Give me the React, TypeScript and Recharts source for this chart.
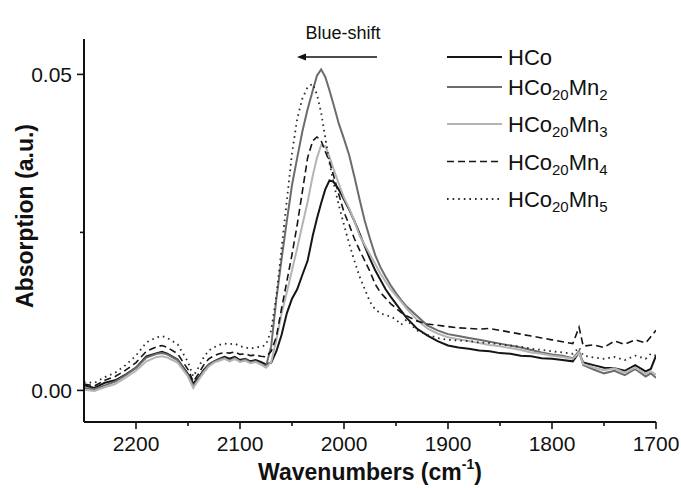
import React from 'react';
import { LineChart, Line, XAxis, YAxis, Legend } from 'recharts';

const WAVENUMBERS = [
  2250, 2240, 2230, 2220, 2210, 2200, 2190, 2180, 2175, 2170,
  2160, 2150, 2145, 2140, 2135, 2130, 2125, 2120, 2115, 2110,
  2105, 2100, 2095, 2090, 2085, 2080, 2075, 2070, 2065, 2060,
  2055, 2050, 2045, 2040, 2035, 2030, 2026, 2022, 2018, 2014,
  2010, 2005, 2000, 1995, 1990, 1985, 1980, 1975, 1970, 1965,
  1960, 1955, 1950, 1945, 1940, 1930, 1920, 1910, 1900, 1890,
  1880, 1870, 1860, 1850, 1840, 1830, 1820, 1810, 1800, 1790,
  1780, 1774, 1770, 1760, 1750, 1740, 1730, 1720, 1710, 1705, 1700,
];

const HCO = [
  0.0008, 0.0004, 0.0012, 0.0016, 0.0025, 0.0036, 0.0054, 0.0059, 0.0061, 0.0058,
  0.0049, 0.0026, 0.0011, 0.0020, 0.0032, 0.0041, 0.0046, 0.0050, 0.0053, 0.0050,
  0.0053, 0.0048, 0.0050, 0.0046, 0.0048, 0.0045, 0.0041, 0.0044, 0.0062, 0.0088,
  0.0122, 0.0145, 0.0160, 0.0183, 0.0205, 0.0245, 0.0272, 0.0296, 0.0318, 0.0332,
  0.0330, 0.0318, 0.0302, 0.0286, 0.0268, 0.0248, 0.0228, 0.0208, 0.0190, 0.0175,
  0.0160, 0.0148, 0.0137, 0.0126, 0.0115, 0.0098, 0.0087, 0.0078, 0.0071, 0.0068,
  0.0066, 0.0063, 0.0062, 0.0059, 0.0058, 0.0055, 0.0054, 0.0051, 0.0050, 0.0048,
  0.0046, 0.0060, 0.0044, 0.0040, 0.0036, 0.0035, 0.0031, 0.0040, 0.0030, 0.0034, 0.0055,
];

const HCO20MN2 = [
  0.0004, 0.0002, 0.0008, 0.0014, 0.0024, 0.0036, 0.0052, 0.0058, 0.0059, 0.0057,
  0.0048, 0.0024, 0.0007, 0.0018, 0.0030, 0.0040, 0.0045, 0.0049, 0.0051, 0.0047,
  0.0051, 0.0046, 0.0049, 0.0044, 0.0046, 0.0042, 0.0038, 0.0070, 0.0145, 0.0208,
  0.0268, 0.0325, 0.0368, 0.0410, 0.0445, 0.0475, 0.0498, 0.0508, 0.0496, 0.0475,
  0.0452, 0.0422, 0.0398, 0.0372, 0.0338, 0.0302, 0.0268, 0.0240, 0.0214, 0.0195,
  0.0180, 0.0166, 0.0154, 0.0143, 0.0133, 0.0118, 0.0103, 0.0095, 0.0089, 0.0086,
  0.0083, 0.0080, 0.0077, 0.0074, 0.0071, 0.0068, 0.0064, 0.0060, 0.0057, 0.0055,
  0.0051, 0.0062, 0.0040, 0.0033, 0.0027, 0.0031, 0.0024, 0.0034, 0.0022, 0.0027, 0.0020,
];

const HCO20MN3 = [
  0.0001, -0.0001, 0.0005, 0.0010, 0.0020, 0.0031, 0.0046, 0.0053, 0.0054, 0.0052,
  0.0044, 0.0022, 0.0004, 0.0016, 0.0028, 0.0038, 0.0044, 0.0047, 0.0050, 0.0046,
  0.0050, 0.0045, 0.0047, 0.0043, 0.0045, 0.0041, 0.0036, 0.0045, 0.0080, 0.0122,
  0.0155, 0.0190, 0.0225, 0.0262, 0.0298, 0.0340, 0.0368, 0.0388, 0.0386, 0.0370,
  0.0350, 0.0327, 0.0305, 0.0288, 0.0268, 0.0245, 0.0230, 0.0215, 0.0200, 0.0185,
  0.0172, 0.0160, 0.0150, 0.0140, 0.0130, 0.0112, 0.0098, 0.0090, 0.0084, 0.0081,
  0.0078, 0.0075, 0.0072, 0.0070, 0.0067, 0.0064, 0.0060, 0.0058, 0.0055, 0.0053,
  0.0050, 0.0060, 0.0042, 0.0036, 0.0032, 0.0035, 0.0028, 0.0036, 0.0026, 0.0030, 0.0025,
];

const HCO20MN4 = [
  0.0010, 0.0007, 0.0016, 0.0022, 0.0032, 0.0044, 0.0062, 0.0069, 0.0071, 0.0068,
  0.0058, 0.0033, 0.0014, 0.0026, 0.0040, 0.0050, 0.0055, 0.0058, 0.0060, 0.0059,
  0.0061, 0.0057, 0.0058, 0.0055, 0.0056, 0.0054, 0.0053, 0.0062, 0.0085, 0.0130,
  0.0172, 0.0215, 0.0262, 0.0315, 0.0368, 0.0395, 0.0401, 0.0395, 0.0378, 0.0362,
  0.0340, 0.0310, 0.0282, 0.0262, 0.0240, 0.0222, 0.0205, 0.0188, 0.0168, 0.0155,
  0.0146, 0.0137, 0.0130, 0.0123, 0.0118, 0.0110, 0.0105, 0.0103, 0.0101, 0.0099,
  0.0098, 0.0097, 0.0098, 0.0095, 0.0092, 0.0089, 0.0086, 0.0083, 0.0080, 0.0077,
  0.0074, 0.0100, 0.0070, 0.0072, 0.0068, 0.0078, 0.0073, 0.0080, 0.0075, 0.0085, 0.0095,
];

const HCO20MN5 = [
  0.0013, 0.0012, 0.0021, 0.0028, 0.0040, 0.0055, 0.0076, 0.0084, 0.0086, 0.0083,
  0.0073, 0.0045, 0.0022, 0.0036, 0.0052, 0.0063, 0.0068, 0.0072, 0.0074, 0.0073,
  0.0074, 0.0070, 0.0068, 0.0066, 0.0068, 0.0069, 0.0072, 0.0095, 0.0150, 0.0225,
  0.0300, 0.0375, 0.0430, 0.0462, 0.0480, 0.0485, 0.0468, 0.0440, 0.0400, 0.0360,
  0.0328, 0.0293, 0.0262, 0.0232, 0.0205, 0.0180, 0.0160, 0.0140, 0.0128, 0.0122,
  0.0119, 0.0117, 0.0112, 0.0104, 0.0112, 0.0095, 0.0088, 0.0083, 0.0080, 0.0079,
  0.0078, 0.0076, 0.0075, 0.0073, 0.0071, 0.0069, 0.0066, 0.0064, 0.0062, 0.0060,
  0.0058, 0.0068, 0.0055, 0.0052, 0.0050, 0.0053, 0.0048, 0.0055, 0.0050, 0.0058, 0.0055,
];

const X_TICKS = [2200, 2150, 2100, 2050, 2000, 1950, 1900, 1850, 1800, 1750, 1700];
const Y_TICKS = [0, 0.025, 0.05];

const SERIES = [
  { key: 'HCo', values: HCO, sub: null, idx: null, color: '#151515', width: 2, dash: undefined },
  { key: 'HCo20Mn2', values: HCO20MN2, sub: '20', idx: '2', color: '#6c6c6c', width: 2, dash: undefined },
  { key: 'HCo20Mn3', values: HCO20MN3, sub: '20', idx: '3', color: '#b4b4b4', width: 2, dash: undefined },
  { key: 'HCo20Mn4', values: HCO20MN4, sub: '20', idx: '4', color: '#151515', width: 1.6, dash: '7 4' },
  { key: 'HCo20Mn5', values: HCO20MN5, sub: '20', idx: '5', color: '#2a2a2a', width: 1.8, dash: '1.6 4' },
];

const data = WAVENUMBERS.map((w, i) => {
  const row: Record<string, number> = { w };
  SERIES.forEach((s) => {
    row[s.key] = s.values[i];
  });
  return row;
});

const FONT = '"Liberation Sans", Arial, Helvetica, sans-serif';

const XTick = (props: any) => {
  const { x, y, payload } = props;
  const major = payload.value % 100 === 0;
  return (
    <g>
      <line x1={x} x2={x} y1={y} y2={y + (major ? 7 : 4)} stroke="#111" strokeWidth={1.6} />
      {major && (
        <text x={x} y={y + 21} textAnchor="middle" dominantBaseline="central" fontFamily={FONT} fontSize={21} fill="#111">
          {payload.value}
        </text>
      )}
    </g>
  );
};

const YTick = (props: any) => {
  const { x, y, payload } = props;
  const major = payload.value !== 0.025;
  return (
    <g>
      <line x1={x - (major ? 7 : 4)} x2={x} y1={y} y2={y} stroke="#111" strokeWidth={1.6} />
      {major && (
        <text x={x - 12} y={y} textAnchor="end" dominantBaseline="central" fontFamily={FONT} fontSize={21} fill="#111">
          {payload.value.toFixed(2)}
        </text>
      )}
    </g>
  );
};

const LEGEND_ROWS_Y = [57, 87, 124, 161.5, 199];

const LegendContent = () => (
  <svg width={681} height={488} style={{ position: 'absolute', left: 0, top: 0 }}>
    <text x={343} y={33} textAnchor="middle" dominantBaseline="central" fontFamily={FONT} fontSize={18} fill="#111">
      Blue-shift
    </text>
    <line x1={377} x2={303} y1={57} y2={57} stroke="#111" strokeWidth={1.3} />
    <polygon points="297,57 306,53.5 306,60.5" fill="#111" />
    {SERIES.map((s, i) => {
      const y = LEGEND_ROWS_Y[i];
      return (
        <g key={s.key}>
          <line x1={447} x2={502} y1={y} y2={y} stroke={s.color} strokeWidth={s.width} strokeDasharray={s.dash} />
          <text x={508} y={y} dominantBaseline="central" fontFamily={FONT} fontSize={22} fill="#111">
            <tspan>HCo</tspan>
            {s.sub && (
              <>
                <tspan dy={7} fontSize={15}>{s.sub}</tspan>
                <tspan dy={-7}>Mn</tspan>
                <tspan dy={7} fontSize={15}>{s.idx}</tspan>
              </>
            )}
          </text>
        </g>
      );
    })}
  </svg>
);

export default function App() {
  return (
    <div style={{ position: 'absolute', left: 0, top: 0, width: 681, height: 488, background: '#fff' }}>
      <LineChart width={681} height={488} data={data} margin={{ top: 39, right: 25, bottom: 0, left: 0 }}>
        <XAxis
          dataKey="w"
          type="number"
          domain={[1700, 2250]}
          reversed
          allowDataOverflow
          ticks={X_TICKS}
          interval={0}
          tickSize={0}
          tickMargin={0}
          tick={XTick}
          tickLine={false}
          axisLine={{ stroke: '#111', strokeWidth: 2 }}
          height={66}
          label={(p: any) => (
            <text x={370} y={472} textAnchor="middle" dominantBaseline="central" fontFamily={FONT} fontSize={23} fontWeight="bold" fill="#111">
              <tspan>Wavenumbers (cm</tspan>
              <tspan dy={-8} fontSize={14}>-1</tspan>
              <tspan dy={8}>)</tspan>
            </text>
          )}
        />
        <YAxis
          type="number"
          domain={[-0.005, 0.0556]}
          allowDataOverflow
          ticks={Y_TICKS}
          interval={0}
          tickSize={0}
          tickMargin={0}
          tick={YTick}
          tickLine={false}
          axisLine={{ stroke: '#111', strokeWidth: 2 }}
          width={84}
          label={(p: any) => (
            <text x={25} y={216} transform="rotate(-90 25 216)" textAnchor="middle" dominantBaseline="central" fontFamily={FONT} fontSize={23} fontWeight="bold" fill="#111">
              Absorption (a.u.)
            </text>
          )}
        />
        {SERIES.map((s) => (
          <Line
            key={s.key}
            dataKey={s.key}
            type="linear"
            stroke={s.color}
            strokeWidth={s.width}
            strokeDasharray={s.dash}
            dot={false}
            activeDot={false}
            isAnimationActive={false}
          />
        ))}
        <Legend
          layout="vertical"
          align="center"
          verticalAlign="middle"
          wrapperStyle={{ left: 0, top: 0, width: 681, height: 488, pointerEvents: 'none' }}
          content={() => <LegendContent />}
        />
      </LineChart>
    </div>
  );
}
